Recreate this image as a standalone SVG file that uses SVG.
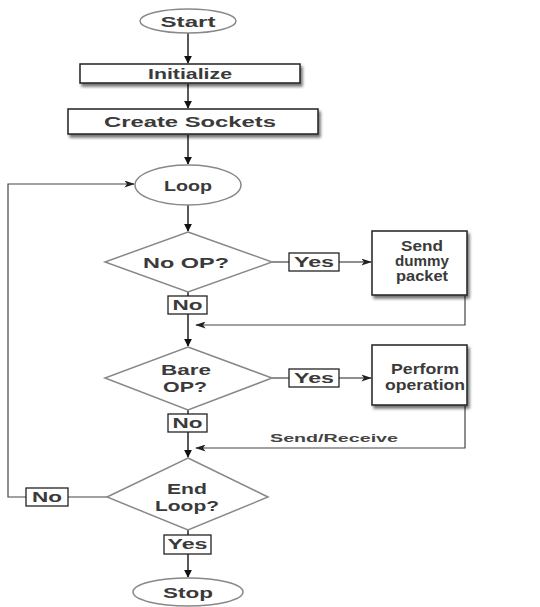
<svg xmlns="http://www.w3.org/2000/svg" width="540" height="607" viewBox="0 0 540 607">
<style>
.t{font-family:"Liberation Sans",Arial,sans-serif;font-weight:bold;fill:#3a3a3a;text-anchor:middle}
.b{font-size:15px}
.s{font-size:14px}
.xs{font-size:11px;fill:#444}
.ov{fill:#fff;stroke:#888;stroke-width:1.5}
.dm{fill:#fff;stroke:#888;stroke-width:1.5}
.bx{fill:#fff;stroke:#222;stroke-width:1.5}
.lb{fill:#fff;stroke:#222;stroke-width:1.3}
.ln{fill:none;stroke:#222;stroke-width:1.5}
.th{fill:none;stroke:#444;stroke-width:1.2}
</style>
<defs>
<marker id="ah" viewBox="0 0 10 10" refX="9" refY="5" markerWidth="8" markerHeight="8" markerUnits="userSpaceOnUse" orient="auto">
<path d="M0,0 L10,5 L0,10 z" fill="#111"/>
</marker>
<marker id="ah2" viewBox="0 0 12 8" refX="11" refY="4" markerWidth="12" markerHeight="7" markerUnits="userSpaceOnUse" orient="auto">
<path d="M0,0 L12,4 L0,8 L3,4 z" fill="#222"/>
</marker>
<filter id="sh" x="-10%" y="-20%" width="125%" height="150%">
<feGaussianBlur in="SourceAlpha" stdDeviation="1.6"/>
<feOffset dx="2" dy="3" result="o"/>
<feComponentTransfer><feFuncA type="linear" slope="0.55"/></feComponentTransfer>
<feMerge><feMergeNode/><feMergeNode in="SourceGraphic"/></feMerge>
</filter>
</defs>
<rect width="540" height="607" fill="#fff"/>
<g id="connectors">
<line class="ln" x1="188" y1="33" x2="188" y2="63" marker-end="url(#ah)"/>
<line class="ln" x1="188" y1="84" x2="188" y2="108" marker-end="url(#ah)"/>
<line class="ln" x1="188" y1="135" x2="188" y2="164" marker-end="url(#ah)"/>
<line class="ln" x1="188" y1="205" x2="188" y2="231" marker-end="url(#ah)"/>
<line class="th" x1="272" y1="262" x2="289" y2="262"/>
<line class="th" x1="339" y1="262" x2="371" y2="262" marker-end="url(#ah2)"/>
<polyline class="th" points="465,296 465,325 196,325" marker-end="url(#ah2)"/>
<line class="ln" x1="188" y1="292" x2="188" y2="296"/>
<line class="ln" x1="188" y1="314" x2="188" y2="346" marker-end="url(#ah)"/>
<line class="th" x1="272" y1="378" x2="289" y2="378"/>
<line class="th" x1="339" y1="378" x2="371" y2="378" marker-end="url(#ah2)"/>
<polyline class="th" points="465,406 465,448 196,448" marker-end="url(#ah2)"/>
<line class="ln" x1="188" y1="410" x2="188" y2="414"/>
<line class="ln" x1="188" y1="432" x2="188" y2="457" marker-end="url(#ah)"/>
<line class="th" x1="107" y1="497" x2="68" y2="497"/>
<polyline class="th" points="26,497 8,497 8,184 134,184" marker-end="url(#ah2)"/>
<line class="ln" x1="188" y1="530" x2="188" y2="535"/>
<line class="ln" x1="188" y1="554" x2="188" y2="577" marker-end="url(#ah)"/>
<text class="t xs" x="334" y="442" textLength="128" lengthAdjust="spacingAndGlyphs">Send/Receive</text>
</g>
<g id="start"><ellipse class="ov" cx="188" cy="21" rx="48" ry="12"/><text class="t b" x="188" y="27" textLength="55" lengthAdjust="spacingAndGlyphs">Start</text></g>
<g id="initialize"><rect class="bx" x="80" y="64" width="220" height="19" filter="url(#sh)"/><text class="t s" x="190" y="79" textLength="84" lengthAdjust="spacingAndGlyphs">Initialize</text></g>
<g id="create-sockets"><rect class="bx" x="68" y="109" width="250" height="25" filter="url(#sh)"/><text class="t s" x="190" y="127" textLength="172" lengthAdjust="spacingAndGlyphs">Create Sockets</text></g>
<g id="loop"><ellipse class="ov" cx="188" cy="185" rx="53" ry="20"/><text class="t b" x="188" y="191" textLength="48" lengthAdjust="spacingAndGlyphs">Loop</text></g>
<g id="no-op"><polygon class="dm" points="188,232 272,262 188,292 105,262"/><text class="t b" x="186" y="268" textLength="86" lengthAdjust="spacingAndGlyphs">No OP?</text></g>
<g id="yes1"><rect class="lb" x="289" y="253" width="50" height="18"/><text class="t s" x="314" y="267" textLength="40" lengthAdjust="spacingAndGlyphs">Yes</text></g>
<g id="send-dummy"><rect class="bx" x="372" y="231" width="95" height="64" filter="url(#sh)"/><text class="t s" x="422" y="251" textLength="42" lengthAdjust="spacingAndGlyphs">Send</text><text class="t s" x="422" y="266" textLength="54" lengthAdjust="spacingAndGlyphs">dummy</text><text class="t s" x="422" y="281" textLength="52" lengthAdjust="spacingAndGlyphs">packet</text></g>
<g id="no1"><rect class="lb" x="168" y="296" width="39" height="18"/><text class="t s" x="187.500" y="310" textLength="30" lengthAdjust="spacingAndGlyphs">No</text></g>
<g id="bare-op"><polygon class="dm" points="188,347 272,378 188,410 105,378"/><text class="t b" x="186" y="375" textLength="50" lengthAdjust="spacingAndGlyphs">Bare</text><text class="t b" x="185" y="392" textLength="44" lengthAdjust="spacingAndGlyphs">OP?</text></g>
<g id="yes2"><rect class="lb" x="289" y="369" width="50" height="18"/><text class="t s" x="314" y="383" textLength="40" lengthAdjust="spacingAndGlyphs">Yes</text></g>
<g id="perform"><rect class="bx" x="372" y="345" width="95" height="60" filter="url(#sh)"/><text class="t s" x="425" y="374" textLength="68" lengthAdjust="spacingAndGlyphs">Perform</text><text class="t s" x="425" y="390" textLength="80" lengthAdjust="spacingAndGlyphs">operation</text></g>
<g id="no2"><rect class="lb" x="168" y="414" width="39" height="18"/><text class="t s" x="187.500" y="428" textLength="30" lengthAdjust="spacingAndGlyphs">No</text></g>
<g id="end-loop"><polygon class="dm" points="188,458 268,497 188,530 107,497"/><text class="t b" x="187" y="494" textLength="40" lengthAdjust="spacingAndGlyphs">End</text><text class="t b" x="187" y="511" textLength="64" lengthAdjust="spacingAndGlyphs">Loop?</text></g>
<g id="no3"><rect class="lb" x="26" y="488" width="42" height="18"/><text class="t s" x="47" y="502" textLength="30" lengthAdjust="spacingAndGlyphs">No</text></g>
<g id="yes3"><rect class="lb" x="164" y="535" width="47" height="19"/><text class="t s" x="187.500" y="549" textLength="40" lengthAdjust="spacingAndGlyphs">Yes</text></g>
<g id="stop"><ellipse class="ov" cx="188" cy="592" rx="55" ry="14"/><text class="t b" x="188" y="598" textLength="50" lengthAdjust="spacingAndGlyphs">Stop</text></g>
</svg>
